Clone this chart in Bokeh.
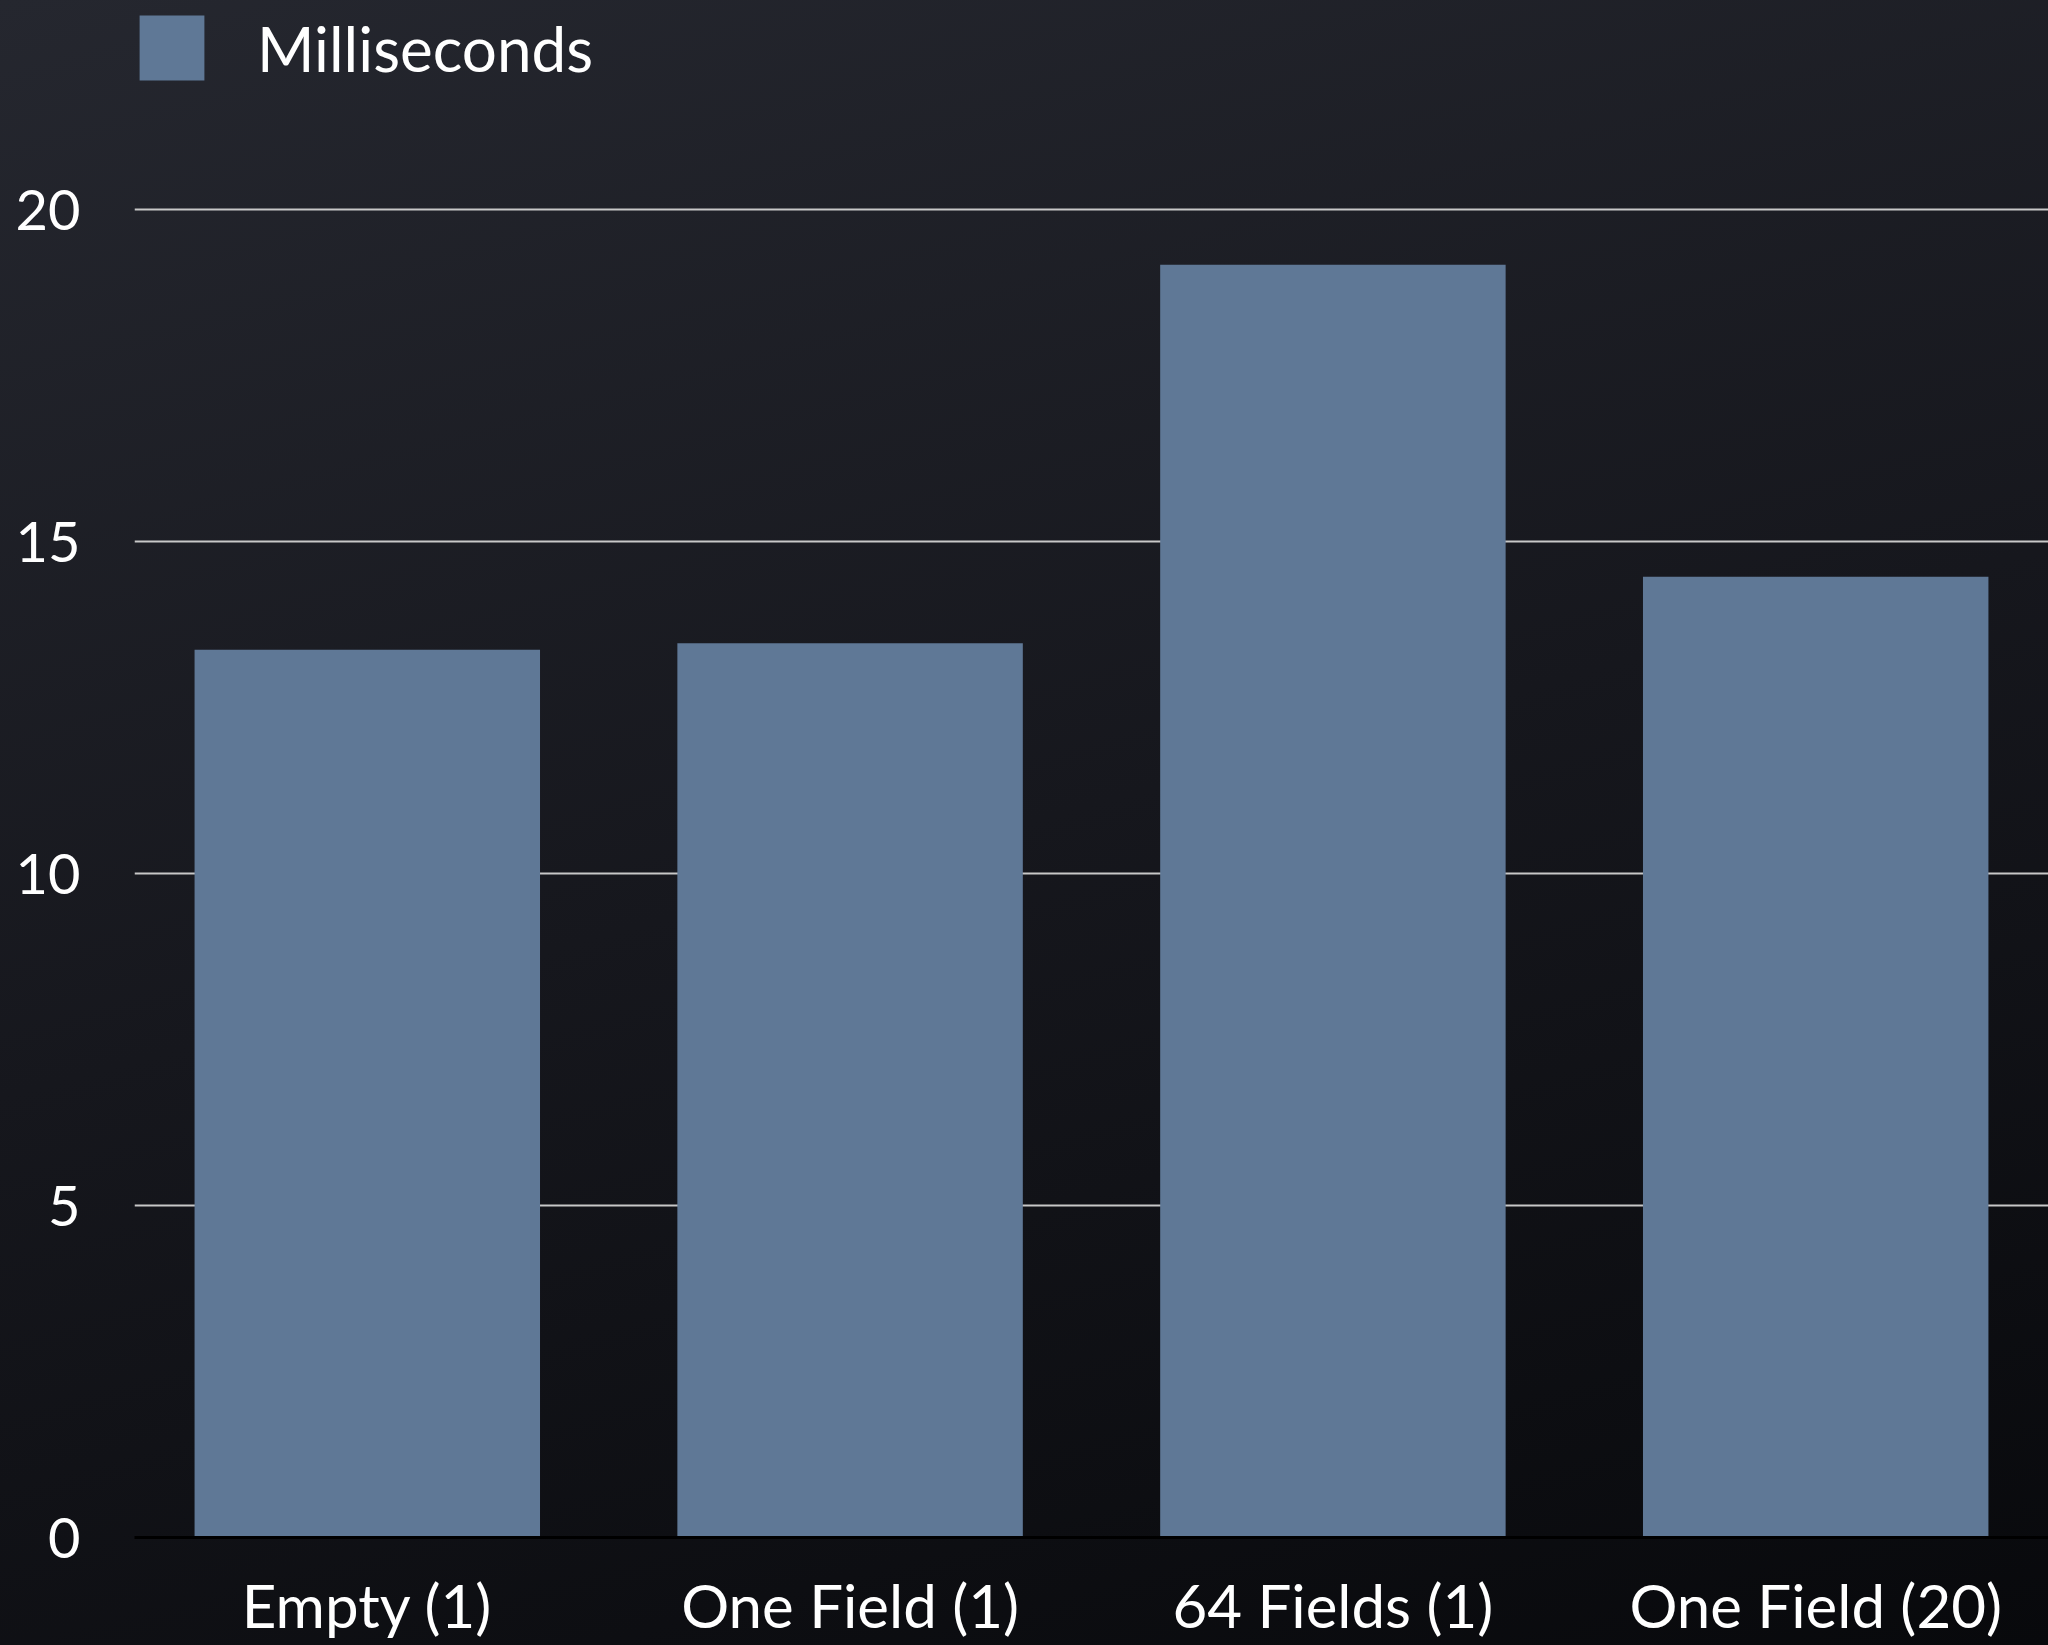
from bokeh.plotting import figure
from bokeh.models import ColumnDataSource, Legend, LegendItem, FactorRange, Range1d, FixedTicker
from bokeh.embed import file_html
from bokeh.resources import INLINE

categories = ["Empty (1)", "One Field (1)", "64 Fields (1)", "One Field (20)"]
milliseconds = [13.37, 13.47, 19.17, 14.47]
y_ticks = [0, 5, 10, 15, 20]
series_name = "Milliseconds"

FONT = "Lato"
BAR = "#5f7896"

src = ColumnDataSource(data=dict(cat=categories, ms=milliseconds))

p = figure(
    width=2048, height=1645,
    x_range=FactorRange(*categories, range_padding=0, factor_padding=0.037),
    y_range=Range1d(0, 23.15),
    output_backend="svg", toolbar_location=None,
    min_border_left=134, min_border_right=0, min_border_top=0, min_border_bottom=108,
)
p.styles = {"background": "linear-gradient(165deg, #25272f 0%, #16171d 50%, #08090c 100%)"}
p.border_fill_color = None
p.background_fill_color = None
p.outline_line_color = None

r = p.vbar(x="cat", top="ms", width=0.742, source=src, fill_color=BAR, line_color=None)

# grid
p.xgrid.grid_line_color = None
p.ygrid.grid_line_color = "#c8c8c8"
p.ygrid.grid_line_width = 2
p.ygrid.ticker = FixedTicker(ticks=y_ticks[1:])

# y axis
p.yaxis.ticker = FixedTicker(ticks=y_ticks)
p.yaxis.axis_line_color = None
p.yaxis.major_tick_line_color = None
p.yaxis.minor_tick_line_color = None
p.yaxis.major_label_text_color = "white"
p.yaxis.major_label_text_font = FONT
p.yaxis.major_label_text_font_size = "56px"
p.yaxis.major_label_standoff = 48

# x axis
p.xaxis.axis_line_color = "black"
p.xaxis.axis_line_width = 3
p.xaxis.major_tick_line_color = None
p.xaxis.major_label_text_color = "white"
p.xaxis.major_label_text_font = FONT
p.xaxis.major_label_text_font_size = "60px"
p.xaxis.major_label_standoff = 25

legend = Legend(
    items=[LegendItem(label=series_name, renderers=[r])],
    location=(-3, 1449),
    margin=0, padding=8,
    glyph_width=81, glyph_height=81,
    label_standoff=45,
    label_text_color="white",
    label_text_font=FONT,
    label_text_font_size="62px",
    background_fill_alpha=0,
    border_line_color=None,
)
p.add_layout(legend)

open("out.html", "w").write(file_html(p, INLINE))
